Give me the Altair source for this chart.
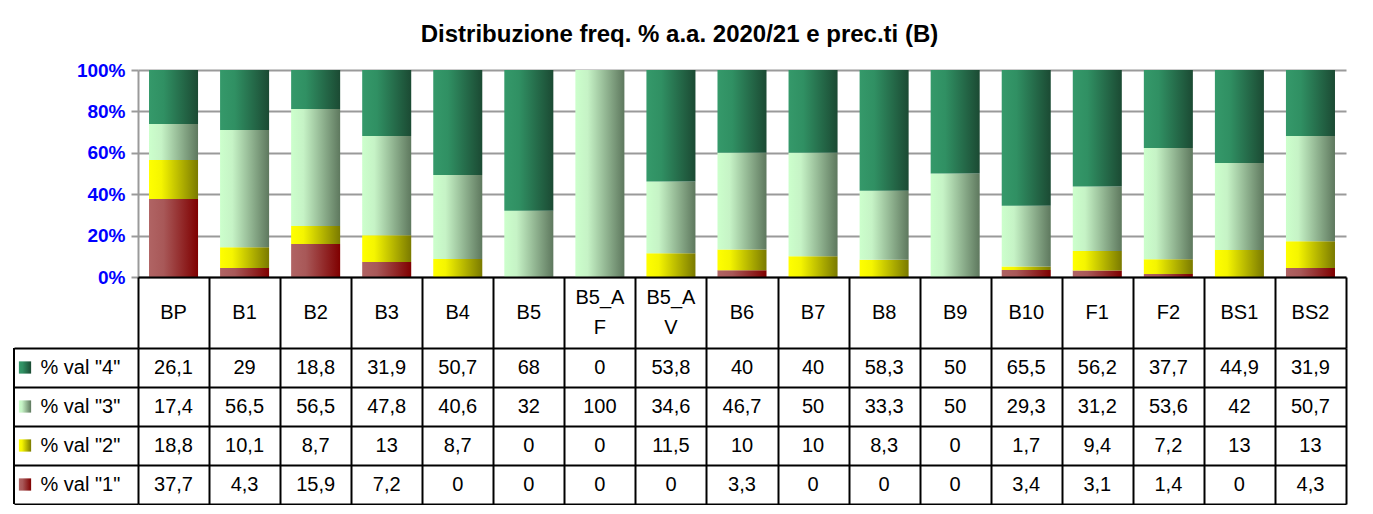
import altair as alt
import pandas as pd

categories = ["BP", "B1", "B2", "B3", "B4", "B5", "B5_AF", "B5_AV", "B6", "B7",
              "B8", "B9", "B10", "F1", "F2", "BS1", "BS2"]
val4 = [26.1, 29, 18.8, 31.9, 50.7, 68, 0, 53.8, 40, 40, 58.3, 50, 65.5, 56.2, 37.7, 44.9, 31.9]
val3 = [17.4, 56.5, 56.5, 47.8, 40.6, 32, 100, 34.6, 46.7, 50, 33.3, 50, 29.3, 31.2, 53.6, 42, 50.7]
val2 = [18.8, 10.1, 8.7, 13, 8.7, 0, 0, 11.5, 10, 10, 8.3, 0, 1.7, 9.4, 7.2, 13, 13]
val1 = [37.7, 4.3, 15.9, 7.2, 0, 0, 0, 0, 3.3, 0, 0, 0, 3.4, 3.1, 1.4, 0, 4.3]
series_names = ['% val "4"', '% val "3"', '% val "2"', '% val "1"']
y_ticks = [0, 0.2, 0.4, 0.6, 0.8, 1.0]
title_text = "Distribuzione freq. % a.a. 2020/21 e prec.ti (B)"

FONT = "Liberation Sans"
PLOT_W = 1208


def grad(stops):
    return alt.Gradient(
        gradient="linear", x1=0, x2=1, y1=0, y2=0,
        stops=[alt.GradientStop(offset=o, color=c) for o, c in stops],
    )


series_fill = {
    series_names[0]: grad([(0, "#35996a"), (0.3, "#309063"), (1, "#1b4a33")]),
    series_names[1]: grad([(0, "#ccffcc"), (0.25, "#c6f3c6"), (1, "#5e785e")]),
    series_names[2]: grad([(0, "#ffff00"), (0.25, "#f5f500"), (1, "#7a7a00")]),
    series_names[3]: grad([(0, "#b06464"), (0.3, "#a85858"), (1, "#7f0000")]),
}

rows = []
all_vals = [val4, val3, val2, val1]
for i, c in enumerate(categories):
    for s_idx, (name, vals) in enumerate(zip(series_names, all_vals)):
        rows.append(dict(cat=c, series=name, v=vals[i], order=4 - s_idx,
                         label=f"{vals[i]:g}".replace(".", ",")))
df = pd.DataFrame(rows)

# ---------- bars ----------
bar_x = alt.X("cat:N", sort=categories,
              scale=alt.Scale(paddingInner=0.31, paddingOuter=0.155), axis=None)
bar_y = alt.Y("y0:Q", scale=alt.Scale(domain=[0, 1]),
              axis=alt.Axis(values=y_ticks, format=".0%", title=None,
                            labelColor="#0000ff", labelFont=FONT, labelFontWeight="bold",
                            labelFontSize=19, labelPadding=6,
                            grid=True, gridColor="#9a9a9a", gridWidth=2,
                            domainColor="#9a9a9a", domainWidth=2,
                            tickColor="#9a9a9a", tickWidth=2, tickSize=7))

base = alt.Chart(df).transform_stack(
    stack="v", groupby=["cat"], sort=[alt.SortField("order", "ascending")],
    as_=["y0", "y1"], offset="normalize")

bar_layers = []
for name in series_names[::-1]:
    bar_layers.append(
        base.transform_filter(alt.datum.series == name)
        .mark_bar(color=series_fill[name], opacity=1)
        .encode(x=bar_x, y=bar_y, y2="y1:Q")
    )
bars = alt.layer(*bar_layers).properties(width=PLOT_W, height=207)

# ---------- header row ----------
hdr_df = pd.DataFrame({
    "cat": categories,
    "hdr": [c if len(c) <= 4 else c[:4] + "\n" + c[4:] for c in categories],
})
tbl_scale = alt.Scale(paddingInner=0, paddingOuter=0)
hdr_x = alt.X("cat:N", sort=categories, scale=tbl_scale,
              axis=alt.Axis(orient="top", labels=False, ticks=False, title=None,
                            domain=True, domainColor="black", domainWidth=2,
                            grid=True, gridColor="black", gridWidth=2, tickBand="extent"))
hdr_base = alt.Chart(hdr_df).transform_calculate(
    multi="indexof(datum.hdr, '\\n') >= 0")
hdr_single = hdr_base.transform_filter("!datum.multi").mark_text(
    fontSize=20, font=FONT, color="black"
).encode(x=hdr_x, text="hdr:N")
hdr_multi = hdr_base.transform_filter("datum.multi").mark_text(
    fontSize=20, font=FONT, color="black", lineBreak="\n", lineHeight=30, dy=-15
).encode(x=hdr_x, text="hdr:N")
header = alt.layer(hdr_single, hdr_multi).properties(width=PLOT_W, height=71)

# ---------- data table ----------
tbl_x = alt.X("cat:N", sort=categories, scale=tbl_scale,
              axis=alt.Axis(labels=False, ticks=False, domain=False, title=None,
                            grid=True, gridColor="black", gridWidth=2, tickBand="extent"))
tbl_y = alt.Y("series:N", sort=series_names, scale=tbl_scale,
              axis=alt.Axis(title=None, domain=False,
                            grid=True, gridColor="black", gridWidth=2, tickBand="extent",
                            ticks=True, tickColor="black", tickWidth=2, tickSize=124,
                            labelAlign="left", labelPadding=-26, labelFontSize=20,
                            labelFont=FONT, labelColor="black"))

texts = alt.Chart(df).mark_text(fontSize=20, font=FONT, color="black").encode(
    x=tbl_x, y=tbl_y, text="label:N")

sw_df = pd.DataFrame({"series": series_names})
swatches = []
for name in series_names:
    swatches.append(
        alt.Chart(sw_df).transform_filter(alt.datum.series == name)
        .mark_square(size=150, color=series_fill[name], opacity=1, filled=True)
        .encode(x=alt.value(-113), y=tbl_y)
    )
left_rule = alt.Chart(sw_df).mark_rule(color="black", strokeWidth=2).encode(
    x=alt.value(-124), y=alt.value(0), y2=alt.value(156))

table = alt.layer(texts, *swatches, left_rule).properties(width=PLOT_W, height=156)

chart = alt.vconcat(bars, header, table, spacing=0, bounds="flush").resolve_scale(
    x="independent", y="independent"
).properties(
    title=alt.TitleParams(text=title_text, fontSize=24, fontWeight="bold", font=FONT,
                          anchor="middle", frame="bounds", offset=14, color="black"),
    padding={"top": 15, "left": 5, "right": 5, "bottom": 0},
).configure(font=FONT).configure_view(stroke=None)

chart.save("out.html", embed_options={"renderer": "svg", "actions": False})
